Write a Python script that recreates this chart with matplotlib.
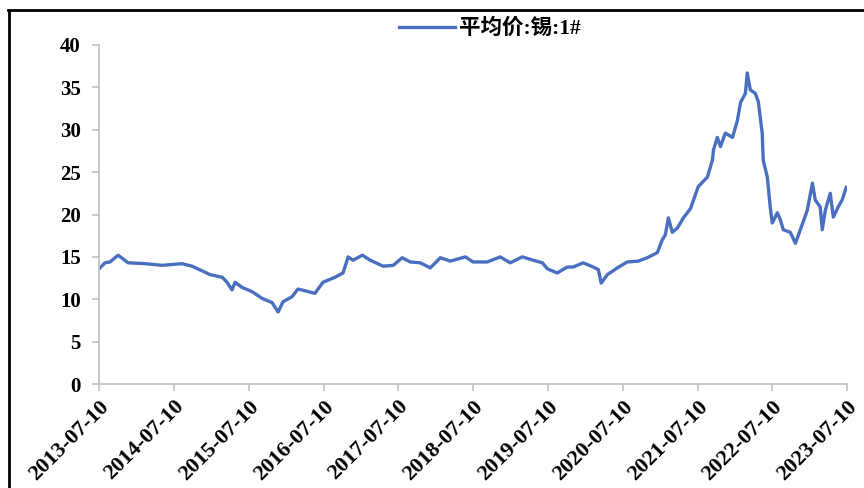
import matplotlib
matplotlib.use('Agg')
import matplotlib.pyplot as plt
from matplotlib.lines import Line2D
import pandas as pd

line_colour = '#4a6fc0'

# tin price (10k yuan/t)
dates = ['2013-07-15', '2013-08-08', '2013-09-02', '2013-10-11', '2013-11-29',
         '2014-02-20', '2014-05-14', '2014-08-19', '2014-10-07', '2014-12-09',
         '2015-01-03', '2015-03-03', '2015-03-27', '2015-04-20', '2015-05-05',
         '2015-06-08', '2015-07-27', '2015-09-14', '2015-11-02', '2015-12-01',
         '2015-12-25', '2016-02-07', '2016-03-07', '2016-04-10', '2016-05-29',
         '2016-07-07', '2016-09-04', '2016-10-13', '2016-11-07', '2016-12-01',
         '2017-01-15', '2017-02-23', '2017-04-27', '2017-06-15', '2017-07-29',
         '2017-09-06', '2017-10-25', '2017-12-13', '2018-01-31', '2018-03-21',
         '2018-06-02', '2018-07-10', '2018-09-17', '2018-11-19', '2019-01-07',
         '2019-03-07', '2019-04-30', '2019-06-13', '2019-07-07', '2019-08-24',
         '2019-10-12', '2019-11-10', '2019-12-29', '2020-02-16', '2020-03-12',
         '2020-03-26', '2020-04-25', '2020-06-13', '2020-07-31', '2020-09-23',
         '2020-11-06', '2020-12-25', '2021-01-18', '2021-02-02', '2021-02-17',
         '2021-03-08', '2021-04-02', '2021-05-01', '2021-06-05', '2021-07-13',
         '2021-08-26', '2021-09-20', '2021-09-25', '2021-10-14', '2021-10-29',
         '2021-11-22', '2021-12-27', '2022-01-20', '2022-02-04', '2022-02-28',
         '2022-03-09', '2022-03-24', '2022-04-17', '2022-05-02', '2022-05-21',
         '2022-05-26', '2022-06-15', '2022-06-29', '2022-07-09', '2022-08-03',
         '2022-08-17', '2022-09-01', '2022-10-05', '2022-10-30', '2022-11-23',
         '2022-12-27', '2023-01-21', '2023-02-04', '2023-02-28', '2023-03-10',
         '2023-03-25', '2023-04-18', '2023-05-03', '2023-05-27', '2023-06-15',
         '2023-07-05']
price = [13.7, 14.3, 14.4, 15.2, 14.3,
         14.2, 14.0, 14.2, 13.9, 13.2,
         12.9, 12.6, 12.0, 11.1, 12.0,
         11.4, 10.9, 10.1, 9.6, 8.5,
         9.7, 10.3, 11.2, 11.0, 10.7,
         12.0, 12.6, 13.1, 15.0, 14.6,
         15.2, 14.6, 13.9, 14.0, 14.9,
         14.4, 14.3, 13.7, 14.9, 14.5,
         15.0, 14.4, 14.4, 15.0, 14.3,
         15.0, 14.6, 14.3, 13.6, 13.1,
         13.8, 13.8, 14.3, 13.8, 13.5,
         11.9, 12.9, 13.7, 14.4, 14.5,
         14.9, 15.5, 17.0, 17.6, 19.6,
         17.9, 18.4, 19.6, 20.7, 23.3,
         24.4, 26.4, 27.6, 29.1, 28.0,
         29.6, 29.1, 31.1, 33.2, 34.3,
         36.7, 34.7, 34.3, 33.3, 29.6,
         26.4, 24.4, 20.9, 19.0, 20.2,
         19.4, 18.2, 17.9, 16.6, 18.2,
         20.5, 23.7, 21.7, 20.9, 18.2,
         20.5, 22.5, 19.7, 20.9, 21.7,
         23.2]
tick_dates = ['2013-07-10', '2014-07-10', '2015-07-10', '2016-07-10', '2017-07-10',
              '2018-07-10', '2019-07-10', '2020-07-10', '2021-07-10', '2022-07-10',
              '2023-07-10']
y_ticks = [0, 5, 10, 15, 20, 25, 30, 35, 40]
series_name = '平均价:锡:1#'

plt.rcParams['font.family'] = ['Liberation Serif', 'Noto Sans CJK SC']
plt.rcParams['font.weight'] = 'bold'

fig = plt.figure(figsize=(8.64, 4.88), dpi=100)
ax = fig.add_axes([0.1146, 0.2131, 0.866, 0.6947])

x = pd.to_datetime(dates)
ax.plot(x, price, color=line_colour, lw=2.4, label=series_name)

ticks = pd.to_datetime(tick_dates)
ax.set_xlim(ticks[0], ticks[-1])
ax.set_xticks(ticks)
ax.set_xticklabels(tick_dates, rotation=45, ha='right', rotation_mode='anchor',
                   fontsize=16, fontweight='bold')
ax.set_ylim(0, 40)
ax.set_yticks(y_ticks)
ax.set_yticklabels([str(v) for v in y_ticks], fontsize=15, fontweight='bold')

for s in ['top', 'right']:
    ax.spines[s].set_visible(False)
for s in ['left', 'bottom']:
    ax.spines[s].set_color('#bfbfbf')
    ax.spines[s].set_linewidth(1.2)
ax.tick_params(axis='both', direction='out', length=5, color='#bfbfbf', width=1.2)
ax.tick_params(axis='y', pad=8)
ax.tick_params(axis='x', pad=4)

leg = ax.legend(loc='upper center', bbox_to_anchor=(0.522, 1.135), frameon=False,
                handlelength=2.6, handletextpad=0.2,
                prop={'size': 15.5, 'weight': 'bold'})

# outer frame (top and left edges show in the picture)
fig.add_artist(Line2D([0.009, 1.0], [0.979, 0.979], color='black', lw=2, transform=fig.transFigure))
fig.add_artist(Line2D([0.010, 0.010], [0.0, 0.979], color='black', lw=2, transform=fig.transFigure))

fig.savefig('out.png', dpi=100)
